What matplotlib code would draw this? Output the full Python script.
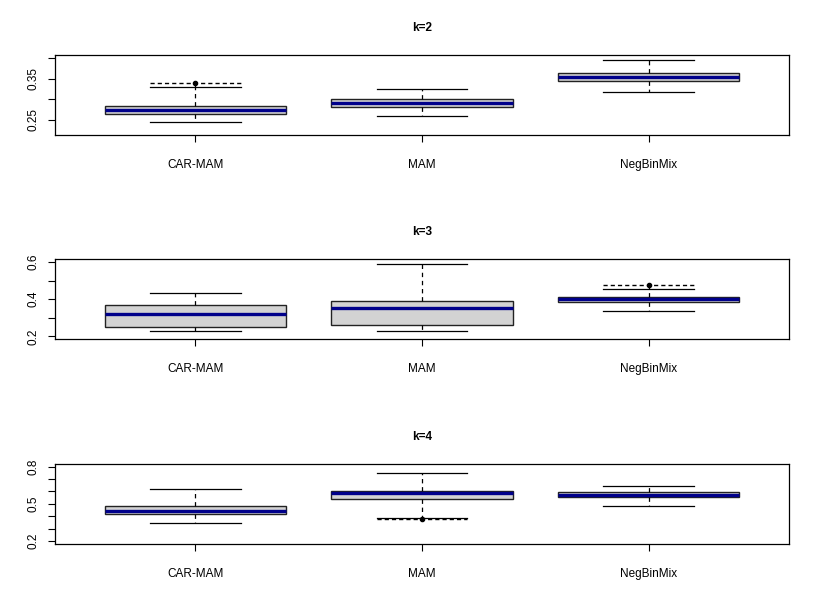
import numpy as np
import matplotlib
matplotlib.use("Agg")
import matplotlib.pyplot as plt

plt.rcParams['font.family'] = ['Liberation Sans', 'DejaVu Sans']

categories = ["CAR-MAM", "MAM", "NegBinMix"]
titles = ["k=2", "k=3", "k=4"]

# k=2
q1_k2 = [0.265, 0.282, 0.345]
med_k2 = [0.274, 0.2915, 0.354]
q3_k2 = [0.283, 0.3005, 0.3645]
lo_k2 = [0.245, 0.260, 0.3175]
hi_k2 = [0.3305, 0.3255, 0.397]
out_k2 = [[0.340], [], []]

# k=3
q1_k3 = [0.2505, 0.259, 0.3866]
med_k3 = [0.320, 0.353, 0.399]
q3_k3 = [0.367, 0.388, 0.410]
lo_k3 = [0.2305, 0.229, 0.3366]
hi_k3 = [0.435, 0.589, 0.455]
out_k3 = [[], [], [0.476]]

# k=4
q1_k4 = [0.415, 0.539, 0.552]
med_k4 = [0.441, 0.586, 0.573]
q3_k4 = [0.485, 0.6055, 0.5925]
lo_k4 = [0.343, 0.388, 0.480]
hi_k4 = [0.619, 0.746, 0.646]
out_k4 = [[], [0.377], []]

yticks_k2 = [0.25, 0.30, 0.35, 0.40]
ylabels_k2 = ["0.25", "", "0.35", ""]
yticks_k3 = [0.2, 0.3, 0.4, 0.5, 0.6]
ylabels_k3 = ["0.2", "", "0.4", "", "0.6"]
yticks_k4 = [0.2, 0.3, 0.4, 0.5, 0.6, 0.7, 0.8]
ylabels_k4 = ["0.2", "", "", "0.5", "", "", "0.8"]

panels = [
    (q1_k2, med_k2, q3_k2, lo_k2, hi_k2, out_k2, yticks_k2, ylabels_k2, (0.2134, 0.4085)),
    (q1_k3, med_k3, q3_k3, lo_k3, hi_k3, out_k3, yticks_k3, ylabels_k3, (0.186, 0.616)),
    (q1_k4, med_k4, q3_k4, lo_k4, hi_k4, out_k4, yticks_k4, ylabels_k4, (0.176, 0.822)),
]

W, H = 817, 613
fig = plt.figure(figsize=(W / 100.0, H / 100.0), dpi=100)

# axes boxes in pixels (top, bottom)
ax_rows = [(55, 135), (259, 339), (464, 544)]
left_px, right_px = 55, 789

pos = np.arange(1, len(categories) + 1)
for i, (q1, med, q3, lo, hi, outs, yt, yl, ylim) in enumerate(panels):
    top, bot = ax_rows[i]
    ax = fig.add_axes([left_px / W, 1 - bot / H, (right_px - left_px) / W, (bot - top) / H])

    stats = []
    for j in range(len(categories)):
        stats.append({"med": med[j], "q1": q1[j], "q3": q3[j],
                      "whislo": lo[j], "whishi": hi[j], "fliers": outs[j]})

    ax.bxp(stats, positions=pos, widths=0.8, capwidths=0.4, patch_artist=True,
           boxprops=dict(facecolor="#d3d3d3", edgecolor="#222222", linewidth=1.0),
           medianprops=dict(color="#00008b", linewidth=2.4, solid_capstyle="butt"),
           whiskerprops=dict(color="black", linewidth=0.9, linestyle=(0, (3.5, 3))),
           capprops=dict(color="black", linewidth=0.9),
           flierprops=dict(marker="o", markersize=3, markerfacecolor="black",
                           markeredgecolor="black"),
           zorder=2)

    # dashed staple at the outlier level, as in the original
    for j in range(len(categories)):
        for v in outs[j]:
            ax.hlines(v, pos[j] - 0.2, pos[j] + 0.2, colors="black",
                      linestyles=(0, (3, 2.2)), linewidth=1.0, zorder=3)
            if v > hi[j]:
                ax.vlines(pos[j], hi[j], v, colors="black",
                          linestyles=(0, (3.5, 3)), linewidth=0.9, zorder=3)
            elif v < lo[j]:
                ax.vlines(pos[j], v, lo[j], colors="black",
                          linestyles=(0, (3.5, 3)), linewidth=0.9, zorder=3)

    ax.set_xlim(0.38, 3.62)
    ax.set_ylim(ylim)
    ax.set_xticks(pos)
    ax.set_xticklabels(categories, fontsize=8.5)
    ax.set_yticks(yt)
    ax.set_yticklabels(yl, fontsize=8.5, rotation=90, va="center")
    ax.tick_params(axis="x", length=5, width=0.8, pad=12.5)
    ax.tick_params(axis="y", length=5, width=0.8, pad=6)
    for s in ax.spines.values():
        s.set_linewidth(0.9)
    ax.set_title(titles[i], fontsize=8.5, fontweight="bold", pad=17.5)

fig.savefig("out.png", dpi=100)
